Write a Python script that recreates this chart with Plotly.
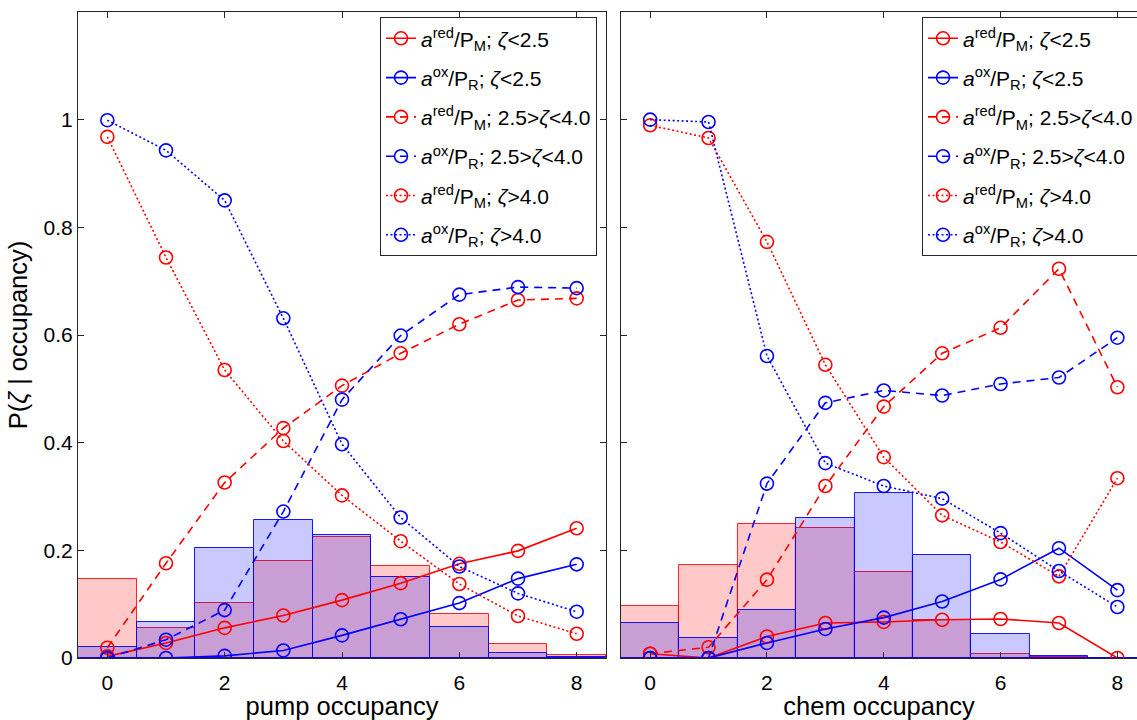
import plotly.graph_objects as go

# occupancy bins
occ = [0, 1, 2, 3, 4, 5, 6, 7, 8]

# ---- pump panel ----
pump_hist_red = [0.147, 0.056, 0.1025, 0.180, 0.225, 0.171, 0.081, 0.026, 0.006]
pump_hist_blue = [0.021, 0.066, 0.205, 0.256, 0.228, 0.151, 0.0575, 0.010, 0.002]

pump_red_low = [0.003, 0.028, 0.056, 0.079, 0.1075, 0.139, 0.175, 0.199, 0.241]
pump_ox_low = [0.0, 0.0, 0.004, 0.014, 0.042, 0.072, 0.102, 0.1475, 0.174]
pump_red_mid = [0.019, 0.176, 0.326, 0.427, 0.506, 0.566, 0.620, 0.665, 0.668]
pump_ox_mid = [0.0, 0.034, 0.089, 0.272, 0.480, 0.599, 0.675, 0.689, 0.687]
pump_red_high = [0.968, 0.744, 0.535, 0.403, 0.302, 0.217, 0.1375, 0.078, 0.045]
pump_ox_high = [0.999, 0.943, 0.850, 0.631, 0.397, 0.261, 0.170, 0.120, 0.086]

# ---- chem panel ----
chem_hist_red = [0.0966, 0.173, 0.2495, 0.242, 0.160, 0.070, 0.008, 0.001, 0.0]
chem_hist_blue = [0.0656, 0.0378, 0.0898, 0.2607, 0.306, 0.192, 0.045, 0.004, 0.0006]

chem_red_low = [0.008, 0.0, 0.040, 0.065, 0.067, 0.071, 0.0725, 0.065, 0.0]
chem_ox_low = [0.0, 0.0, 0.028, 0.054, 0.075, 0.105, 0.146, 0.204, 0.126]
chem_red_mid = [0.008, 0.020, 0.1455, 0.3195, 0.467, 0.566, 0.6134, 0.723, 0.503]
chem_ox_mid = [0.0, 0.0, 0.324, 0.474, 0.497, 0.4876, 0.509, 0.521, 0.595]
chem_red_high = [0.9895, 0.966, 0.773, 0.5446, 0.373, 0.265, 0.2155, 0.1517, 0.334]
chem_ox_high = [1.0, 0.9957, 0.561, 0.362, 0.3195, 0.296, 0.232, 0.1616, 0.0947]

y_ticks = [0, 0.2, 0.4, 0.6, 0.8, 1.0]
y_tick_text = ["0", "0.2", "0.4", "0.6", "0.8", "1"]
x_ticks = [0, 2, 4, 6, 8]

names = [
    "<i>a</i><sup>red</sup>/P<sub>M</sub>; <i>ζ</i>&lt;2.5",
    "<i>a</i><sup>ox</sup>/P<sub>R</sub>; <i>ζ</i>&lt;2.5",
    "<i>a</i><sup>red</sup>/P<sub>M</sub>; 2.5&gt;<i>ζ</i>&lt;4.0",
    "<i>a</i><sup>ox</sup>/P<sub>R</sub>; 2.5&gt;<i>ζ</i>&lt;4.0",
    "<i>a</i><sup>red</sup>/P<sub>M</sub>; <i>ζ</i>&gt;4.0",
    "<i>a</i><sup>ox</sup>/P<sub>R</sub>; <i>ζ</i>&gt;4.0",
]
RED = "#FF0000"
BLUE = "#0000FF"
colors = [RED, BLUE, RED, BLUE, RED, BLUE]
dashes = ["solid", "solid", "8px,6px", "8px,6px", "2px,2.5px", "2px,2.5px"]

FONT = "Liberation Sans, Arial, sans-serif"
AXC = "#262626"

fig = go.Figure()


def add_panel(hist_red, hist_blue, series, xa, ya, legend):
    fig.add_trace(go.Bar(
        x=occ, y=hist_red, width=1, xaxis=xa, yaxis=ya, showlegend=False,
        marker=dict(color="rgba(255,0,0,0.21)", line=dict(color="rgba(255,0,0,0.85)", width=1)),
    ))
    fig.add_trace(go.Bar(
        x=occ, y=hist_blue, width=1, xaxis=xa, yaxis=ya, showlegend=False,
        marker=dict(color="rgba(0,0,255,0.21)", line=dict(color="rgba(0,0,255,0.9)", width=1)),
    ))
    for i, (vals, name, c, d) in enumerate(zip(series, names, colors, dashes)):
        fig.add_trace(go.Scatter(
            x=occ, y=vals, name=name, xaxis=xa, yaxis=ya, legend=legend,
            legendgroup=f"{legend}_{i}",
            mode="lines+markers",
            line=dict(color=c, width=1.6, dash=d),
            marker=dict(symbol="circle-open", size=13, color=c, line=dict(width=1.6, color=c)),
        ))


add_panel(pump_hist_red, pump_hist_blue,
          [pump_red_low, pump_ox_low, pump_red_mid, pump_ox_mid, pump_red_high, pump_ox_high],
          "x", "y", "legend")
add_panel(chem_hist_red, chem_hist_blue,
          [chem_red_low, chem_ox_low, chem_red_mid, chem_ox_mid, chem_red_high, chem_ox_high],
          "x2", "y2", "legend2")

axis_common = dict(
    showline=True, linecolor=AXC, linewidth=1, ticks="inside", ticklen=6,
    tickcolor=AXC, tickwidth=1, showgrid=False, zeroline=False,
    tickfont=dict(family=FONT, size=21, color="black"),
)

legend_common = dict(
    bgcolor="white", bordercolor=AXC, borderwidth=1,
    font=dict(family=FONT, size=21, color="black"),
    xanchor="left", yanchor="top", itemwidth=30, tracegroupgap=9,
)

TITLE_FONT = dict(family=FONT, size=25.5, color="black")

fig.update_layout(
    width=1137, height=720,
    paper_bgcolor="white", plot_bgcolor="white",
    margin=dict(l=78, r=0, t=12, b=62, autoexpand=False),
    barmode="overlay", bargap=0,
    font=dict(family=FONT, color="black"),
    xaxis=dict(domain=[0, 0.4986], range=[-0.5, 8.5], tickvals=x_ticks, mirror="ticks",
               ticklabelstandoff=6,
               title=dict(text="pump occupancy", font=TITLE_FONT, standoff=4),
               **axis_common),
    yaxis=dict(domain=[0, 1], range=[0, 1.2], tickvals=y_ticks, ticktext=y_tick_text, mirror="ticks",
               title=dict(text="P(<i>ζ</i> | occupancy)", font=TITLE_FONT, standoff=8),
               **axis_common),
    xaxis2=dict(domain=[0.5127, 1.0], range=[-0.5, 8.336], tickvals=x_ticks, mirror="ticks",
                anchor="y2", ticklabelstandoff=6,
                title=dict(text="chem occupancy", font=TITLE_FONT, standoff=4),
                **axis_common),
    yaxis2=dict(domain=[0, 1], range=[0, 1.2], tickvals=y_ticks, showticklabels=False,
                anchor="x2", mirror=False, **axis_common),
    legend=dict(x=0.2852, y=0.992, **legend_common),
    legend2=dict(x=0.797, y=0.992, **legend_common),
)

fig.write_html("out.html")
